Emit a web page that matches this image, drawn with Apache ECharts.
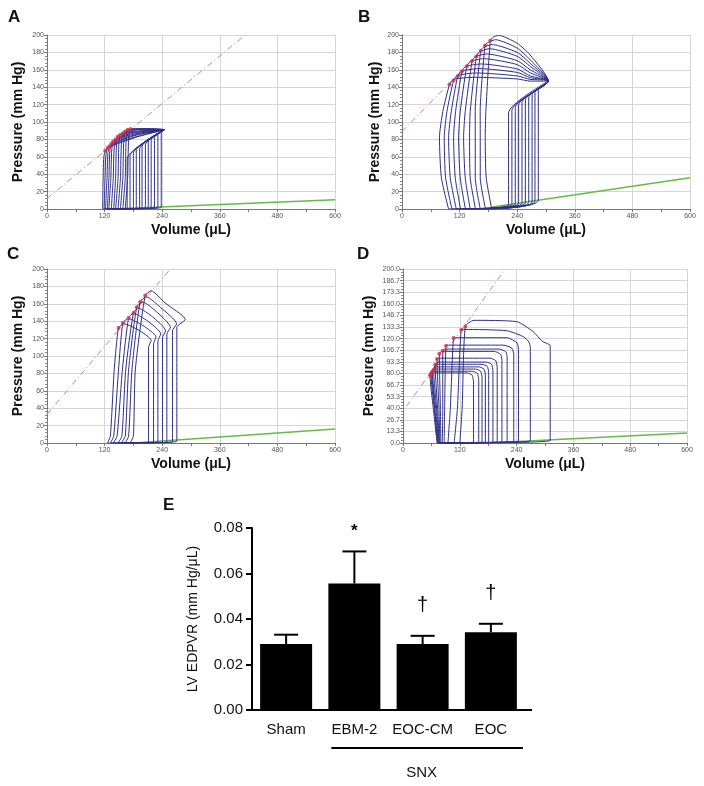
<!DOCTYPE html>
<html><head><meta charset="utf-8">
<script src="https://cdn.jsdelivr.net/npm/echarts@6/dist/echarts.min.js"></script>
<style>html,body{margin:0;padding:0;background:#fff}#c{width:704px;height:786px}</style>
</head><body><div id="c"></div>
<script>
// ---------- DATA ----------
// Panel A: PV loops (volume µL, pressure mm Hg)
const loopsA = [
 [[116,0],[167,1],[167,58],[244,91],[183,82],[121,67],[117,36],[116,0]],
 [[119,0],[173,1],[173,61],[244,91],[185,83],[126,70],[121,36],[119,0]],
 [[122,0],[180,1],[180,64],[244,91],[187,85],[130,72],[125,35],[122,0]],
 [[126,0],[186,1],[186,67],[244,91],[189,86],[134,75],[129,36],[126,0]],
 [[129,0],[193,1],[193,69],[244,91],[191,87],[138,78],[133,35],[129,0]],
 [[134,0],[198,1.5],[198,72],[244,91],[194,88.5],[143,80],[138,35],[134,0]],
 [[139,0],[205,1.5],[205,74],[244,91],[196,89],[147,83],[143,36],[139,0]],
 [[143,0],[211,1.5],[211,77],[244,91],[199,90],[152,85],[148,35],[143,0]],
 [[148,0],[217,1.5],[217,79],[244,91],[201,91],[158,87],[153,35],[148,0]],
 [[153,0],[224,2],[224,82],[244,91],[204,91.5],[163,89],[158,36],[153,0]],
 [[158,0],[231,2],[231,85],[244,91],[207,92],[168,91],[163,35],[158,0]],
 [[163,0],[238,2],[238,88],[244,91],[210,92.5],[174,92],[168,36],[163,0]]
];
const dotsA = [[121,67],[126,70],[130,72],[134,75],[138,78],[143,80],[147,83],[152,85],[158,87],[163,89],[168,91],[174,92]];
const espvrA = [[0,12],[413,200]];
const edpvrA = [[160,0.5],[600,10.5]];

// Panel B
const loopsB = [
 [[97,0],[222,4.5],[222,110.5],[305,147],[267,147],[240,149.5],[150,151.4],[108,149],[99,143],[85,112],[78,82],[82,36],[97,0]],
 [[104,0],[229,5],[229,113.5],[305,147],[267,149],[240,153],[155,156.4],[116,153.5],[107.5,147.6],[93.6,112],[88,82],[90.8,36],[104,0]],
 [[113,0],[236,5.5],[236,116.5],[305,147],[267,151],[240,157],[160,161.4],[124,158.5],[116,152.6],[102.6,112],[97,82],[100.5,36],[113,0]],
 [[122,0],[243,6],[243,119.5],[305,147],[267,153],[240,161],[165,166.7],[133,164],[125,158.3],[111.6,112],[107.5,82],[110.9,36],[122,0]],
 [[132,0],[250,6.5],[250,122.5],[305,147],[267,156.5],[240,166],[170,172.8],[142,169.5],[135,164],[121.3,112],[117.9,82],[121.3,36],[132,0]],
 [[142,0],[257,7],[257,125.5],[305,147],[267,160],[240,170.5],[176,178.2],[152,175],[146,170],[131.7,112],[128.3,82],[131.7,36],[142,0]],
 [[153,0],[264,7.5],[264,128.5],[305,147],[267,164],[240,175.5],[182,184.3],[161,180.5],[155,175.6],[142.1,112],[140.8,82],[142.1,36],[153,0]],
 [[163,0],[271,8],[271,131.5],[305,147],[267,167.5],[240,180],[188,189],[170,186],[164,182],[152.5,112],[152.6,82],[152.6,36],[163,0]],
 [[174,0],[277,9],[277,134],[305,147],[267,171.5],[240,185],[195,194.6],[179,191.5],[173,188],[162.9,112],[163,82],[163,36],[174,0]],
 [[187,0],[284,10],[284,137],[305,147],[267,177],[240,190.5],[201,199.6],[190,197.5],[184,193.5],[174.7,112],[173.4,82],[175.4,36],[187,0]]
];
const dotsB = [[99,143],[107.5,147.6],[116,152.6],[125,158.3],[135,164],[146,170],[155,175.6],[164,182],[173,188],[184,193.5]];
const espvrB = [[0,89],[190,196]];
const edpvrB = [[185,2],[600,36]];

// Panel C
const loopsC = [
 [[126,0],[211.5,1],[211.5,110],[217,118],[190,130],[160,137],[149,132.2],[140,84],[132,8],[126,0]],
 [[132,0],[222,1],[222,114],[227,122],[200,135],[169,143],[158,138],[149,84],[139,8],[132,0]],
 [[138,0],[231,1],[231,117],[237,125.5],[210,140],[180,149],[170,143.7],[157,84],[146,8],[138,0]],
 [[148,0],[240.6,1],[240.6,121],[247,129],[220,145],[190,155],[180,149.4],[164,84],[156,8],[148,0]],
 [[155,0],[249.7,1],[249.7,125],[257,133],[228,151],[199,162],[187,156],[170,84],[163,8],[155,0]],
 [[163,0],[261.4,1.5],[261.4,129],[270,137],[236,156],[207,168],[194,162],[177,84],[170,8],[163,0]],
 [[173,0],[270.5,2],[270.5,133],[288,142],[246,161],[217,175],[204.6,169.6],[184,84],[180,8],[173,0]]
];
const dotsC = [[149,132.2],[158,138],[170,143.7],[180,149.4],[187,156],[194,162],[204.6,169.6]];
const espvrC = [[0,33],[257,200]];
const edpvrC = [[195,0.5],[600,16]];

// Panel D
const loopsD = [
 [[72,0],[149,1],[149,70],[146,78],[136,80.5],[63,80.5],[57,77.5],[64,40],[72,0]],
 [[73,0],[160,1],[160,72],[157,80],[146,82.5],[65,82.5],[59,79.5],[66,40],[73,0]],
 [[74,0],[167,1],[167,75],[164,82.5],[153,85],[67,85],[61,81],[67,40],[74,0]],
 [[75,0],[174,1],[174,78],[171,85],[160,87.5],[68,87.5],[62,82],[69,40],[75,0]],
 [[76,0],[181,1],[181,81],[178,88],[167,90.5],[71,90.5],[64.7,84.2],[71,40],[76,0]],
 [[77,0],[190,1],[190,83],[187,90.5],[176,93],[74,93],[68,90],[73,40],[77,0]],
 [[78,0],[199,1.5],[199,87],[196,94.5],[184,97.5],[77,97.5],[71.8,96.5],[76,40],[78,0]],
 [[80,0],[209,1.5],[209,95],[206,102],[193,105.3],[82,105.3],[76.7,102.6],[79,40],[80,0]],
 [[83,0],[220,1.5],[220,98],[217,105],[203,108],[89,108],[84,106],[84,40],[83,0]],
 [[87,0],[234,2],[234,102],[230,109],[212,112.5],[96,112.5],[90.8,111.8],[88,40],[87,0]],
 [[95,0],[244,2],[244,106],[241,115],[220,121],[112,121],[106.9,120.7],[100,40],[95,0]],
 [[108,0],[269,2.5],[269,110],[266,116],[255,122],[220,129],[130,130.5],[123.2,130.2],[115,40],[108,0]],
 [[120,0],[311,3],[311,105],[311,112],[294,117],[275,128],[240,139.5],[150,141],[131.6,134],[125,40],[120,0]]
];
const dotsD = [[57,77.5],[59,79.5],[61,81],[62,82],[64.7,84.2],[68,90],[71.8,96.5],[76.7,102.6],[84,106],[90.8,111.8],[106.9,120.7],[123.2,130.2],[131.6,134]];
const espvrD = [[7,42],[216,200]];
const edpvrD = [[200,0.5],[600,11.5]];

// Panel E: LV EDPVR bar chart
const categoriesE = ['Sham','EBM-2','EOC-CM','EOC'];
const meansE = [0.029, 0.0556, 0.029, 0.0342];
const semE = [0.0041, 0.0141, 0.0036, 0.0037];
const marksE = ['', '*', '\u2020', '\u2020'];
const yTicksE = [0, 0.02, 0.04, 0.06, 0.08];
const groupLabelE = 'SNX';

// ---------- CHART ----------
const FONT = 'Arial, "Liberation Sans", Helvetica, sans-serif';
const chart = echarts.init(document.getElementById('c'), null, {renderer:'canvas'});

const grids = [
 {left:47, top:35, width:288, height:174},
 {left:402, top:35, width:288, height:174},
 {left:47, top:269, width:288, height:174},
 {left:403, top:269, width:284, height:174},
 {left:252, top:528, width:273, height:182}
];
const yGaps = [22, 20, 22, 27];

function pvX(g){
  return {gridIndex:g, type:'value', min:0, max:600, interval:120,
    name:'Volume (\u03bcL)', nameLocation:'middle', nameGap:14,
    nameTextStyle:{fontFamily:FONT, fontSize:14, fontWeight:'bold', color:'#111'},
    axisLine:{onZero:false, lineStyle:{color:'#777', width:1}},
    axisTick:{length:3, lineStyle:{color:'#777'}},
    minorTick:{show:true, splitNumber:2, length:3, lineStyle:{color:'#777'}},
    axisLabel:{fontFamily:FONT, fontSize:7, color:'#555', margin:4},
    splitLine:{show:true, lineStyle:{color:'#d6d6d6', width:1}}};
}
function pvY(g, isD){
  return {gridIndex:g, type:'value', min:0, max:200, interval: isD ? 200/15 : 20,
    name:'Pressure (mm Hg)', nameLocation:'middle', nameGap:yGaps[g], nameRotate:90,
    nameTextStyle:{fontFamily:FONT, fontSize:14, fontWeight:'bold', color:'#111'},
    axisLine:{show:true, lineStyle:{color:'#777', width:1}},
    axisTick:{show:true, length:3, lineStyle:{color:'#777'}},
    minorTick:{show:true, splitNumber: isD ? 4 : 5, length:2, lineStyle:{color:'#888'}},
    axisLabel:{fontFamily:FONT, fontSize:7, color:'#555', margin:3,
      formatter: v => isD ? v.toFixed(1) : String(Math.round(v))},
    splitLine:{show:true, lineStyle:{color:'#d6d6d6', width:1}}};
}

const xAxes = [pvX(0), pvX(1), pvX(2), pvX(3), {
  gridIndex:4, type:'category', data:categoriesE,
  axisLine:{lineStyle:{color:'#000', width:2}},
  axisTick:{show:false},
  axisLabel:{fontFamily:FONT, fontSize:15, color:'#111', margin:12, interval:0}
}];
const yAxes = [pvY(0,false), pvY(1,false), pvY(2,false), pvY(3,true), {
  gridIndex:4, type:'value', min:yTicksE[0], max:yTicksE[yTicksE.length-1], interval:yTicksE[1]-yTicksE[0],
  name:'LV EDPVR (mm Hg/\u03bcL)', nameLocation:'middle', nameGap:52, nameRotate:90,
  nameTextStyle:{fontFamily:FONT, fontSize:14, color:'#111'},
  axisLine:{show:true, lineStyle:{color:'#000', width:2}},
  axisTick:{show:true, length:6, lineStyle:{color:'#000', width:2}},
  axisLabel:{fontFamily:FONT, fontSize:15, color:'#111', margin:9, formatter: v => v.toFixed(2)},
  splitLine:{show:false}
}];

const series = [];
const panels = [
  [loopsA, dotsA, espvrA, edpvrA],
  [loopsB, dotsB, espvrB, edpvrB],
  [loopsC, dotsC, espvrC, edpvrC],
  [loopsD, dotsD, espvrD, edpvrD]
];
panels.forEach((p, g) => {
  const [loops, dots, espvr, edpvr] = p;
  series.push({type:'line', xAxisIndex:g, yAxisIndex:g, data:espvr, symbol:'none', silent:true, z:2,
    lineStyle:{color:'#c98794', width:1, type:[6,3,1,3]}});
  series.push({type:'line', xAxisIndex:g, yAxisIndex:g, data:edpvr, symbol:'none', silent:true, z:3,
    lineStyle:{color:'#66bb44', width:1.5}});
  loops.forEach(lp => {
    series.push({type:'line', xAxisIndex:g, yAxisIndex:g, data:lp, symbol:'none', smooth:0.2, silent:true, z:4,
      lineStyle:{color:'#2f2f85', width:1}});
  });
  series.push({type:'scatter', xAxisIndex:g, yAxisIndex:g, data:dots, symbol:'circle', symbolSize:4, silent:true, z:6,
    itemStyle:{color:'#d0304c'}});
});

series.push({type:'bar', xAxisIndex:4, yAxisIndex:4, data:meansE, barWidth:52, itemStyle:{color:'#000'}, z:3});
series.push({type:'custom', xAxisIndex:4, yAxisIndex:4, z:4,
  data: meansE.map((m,i) => [i, m, semE[i]]),
  renderItem: (params, api) => {
    const i = api.value(0), m = api.value(1), e = api.value(2);
    const p0 = api.coord([i, m]);
    const p1 = api.coord([i, m + e]);
    const mk = marksE[params.dataIndex];
    const children = [
      {type:'line', shape:{x1:p0[0], y1:p0[1], x2:p1[0], y2:p1[1]}, style:{stroke:'#000', lineWidth:2}},
      {type:'line', shape:{x1:p1[0]-12, y1:p1[1], x2:p1[0]+12, y2:p1[1]}, style:{stroke:'#000', lineWidth:2}}
    ];
    if (mk) {
      const dag = mk !== '*';
      children.push({type:'text', x:p1[0], y:p1[1] - (dag ? 20 : 12),
        style:{text:mk, fill:'#000', font: (dag ? '20px ' : 'bold 17px ') + FONT, align:'center', verticalAlign:'bottom'}});
    }
    return {type:'group', children};
  }
});

const letters = [['A',8,9],['B',358,9],['C',7,246],['D',357,246],['E',163,497]];

chart.setOption({
  animation:false,
  backgroundColor:'#fff',
  grid: grids,
  xAxis: xAxes,
  yAxis: yAxes,
  series: series,
  title: letters.map(l => ({text:l[0], left:l[1], top:l[2], padding:0,
    textStyle:{fontFamily:FONT, fontSize:17, fontWeight:'bold', color:'#111'}}))
});

// SNX group line and label under categories 2-4; small extension of the E baseline
const xs = categoriesE.map(c => chart.convertToPixel({xAxisIndex:4}, c));
const base = chart.convertToPixel({yAxisIndex:4}, 0);
const lineY = 748;
chart.setOption({graphic:[
  {type:'line', shape:{x1: 524, y1: base, x2: 532, y2: base}, style:{stroke:'#000', lineWidth:2}},
  {type:'line', shape:{x1: xs[1]-23, y1: lineY, x2: xs[3]+32, y2: lineY}, style:{stroke:'#000', lineWidth:2}},
  {type:'text', x: xs[2]-1, y: 773, style:{text:groupLabelE, font:'15px '+FONT, fill:'#111', align:'center', verticalAlign:'middle'}}
]});
</script></body></html>
